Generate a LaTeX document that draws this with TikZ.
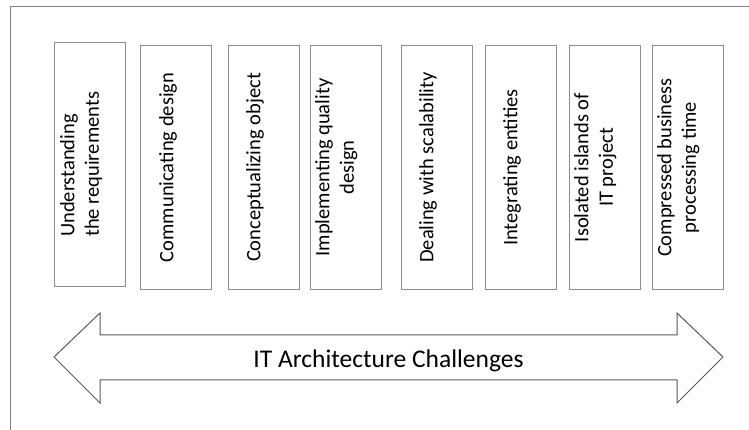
\documentclass[tikz,border=0pt]{standalone}
\usepackage{fontspec}
\setmainfont{Carlito}
\usepackage{tikz}

\begin{document}
\begin{tikzpicture}[x=1pt,y=1pt,
  box/.style={draw=gray!90,line width=1pt,minimum width=71pt,minimum height=244pt,inner sep=0pt,anchor=south west},
  lbl/.style={rotate=90,inner sep=0pt,align=center,font=\fontsize{20.5}{24.5}\selectfont},
  arr/.style={draw=black!65,line width=1pt}]
\useasboundingbox(0,0)rectangle(749,430);
\draw[gray,line width=1pt](10,0)--(10,423)--(749,423);
\node[box](b1)at(54,143){};
\node[box](b2)at(140,140){};
\node[box](b3)at(228,140){};
\node[box](b4)at(310,140){};
\node[box](b5)at(401,140){};
\node[box](b6)at(485,140){};
\node[box](b7)at(569,140){};
\node[box](b8)at(652,140){};
\node[lbl,align=left,anchor=north west](t1)at([shift={(6,50)}]b1.south west){Understanding\\the requirements};
\node[lbl,anchor=north](t2)at([xshift=19pt]b2.west){Communicating design};
\node[lbl,anchor=north](t3)at([xshift=18pt]b3.west){Conceptualizing object};
\node[lbl,anchor=north](t4)at([xshift=5pt]b4.west){Implementing quality\\design};
\node[lbl,anchor=north](t5)at([xshift=18pt]b5.west){Dealing with scalability};
\node[lbl,anchor=north](t6)at([xshift=18pt]b6.west){Integrating entities};
\node[lbl,anchor=north](t7)at([xshift=5pt]b7.west){Isolated islands of\\IT project};
\node[lbl,anchor=north](t8)at([xshift=5pt]b8.west){Compressed business\\processing time};
\coordinate(lt)at(54,73);
\coordinate(rt)at(723,73);
\draw[arr](lt)--(100,117)--(100,95)--(677,95)--(677,117)--(rt)--(677,27)--(677,50)--(100,50)--(100,27)--cycle;
\node[anchor=base,inner sep=0pt,font=\fontsize{25.5}{30}\selectfont](title)at(388.5,62){IT Architecture Challenges};
\end{tikzpicture}
\end{document}
